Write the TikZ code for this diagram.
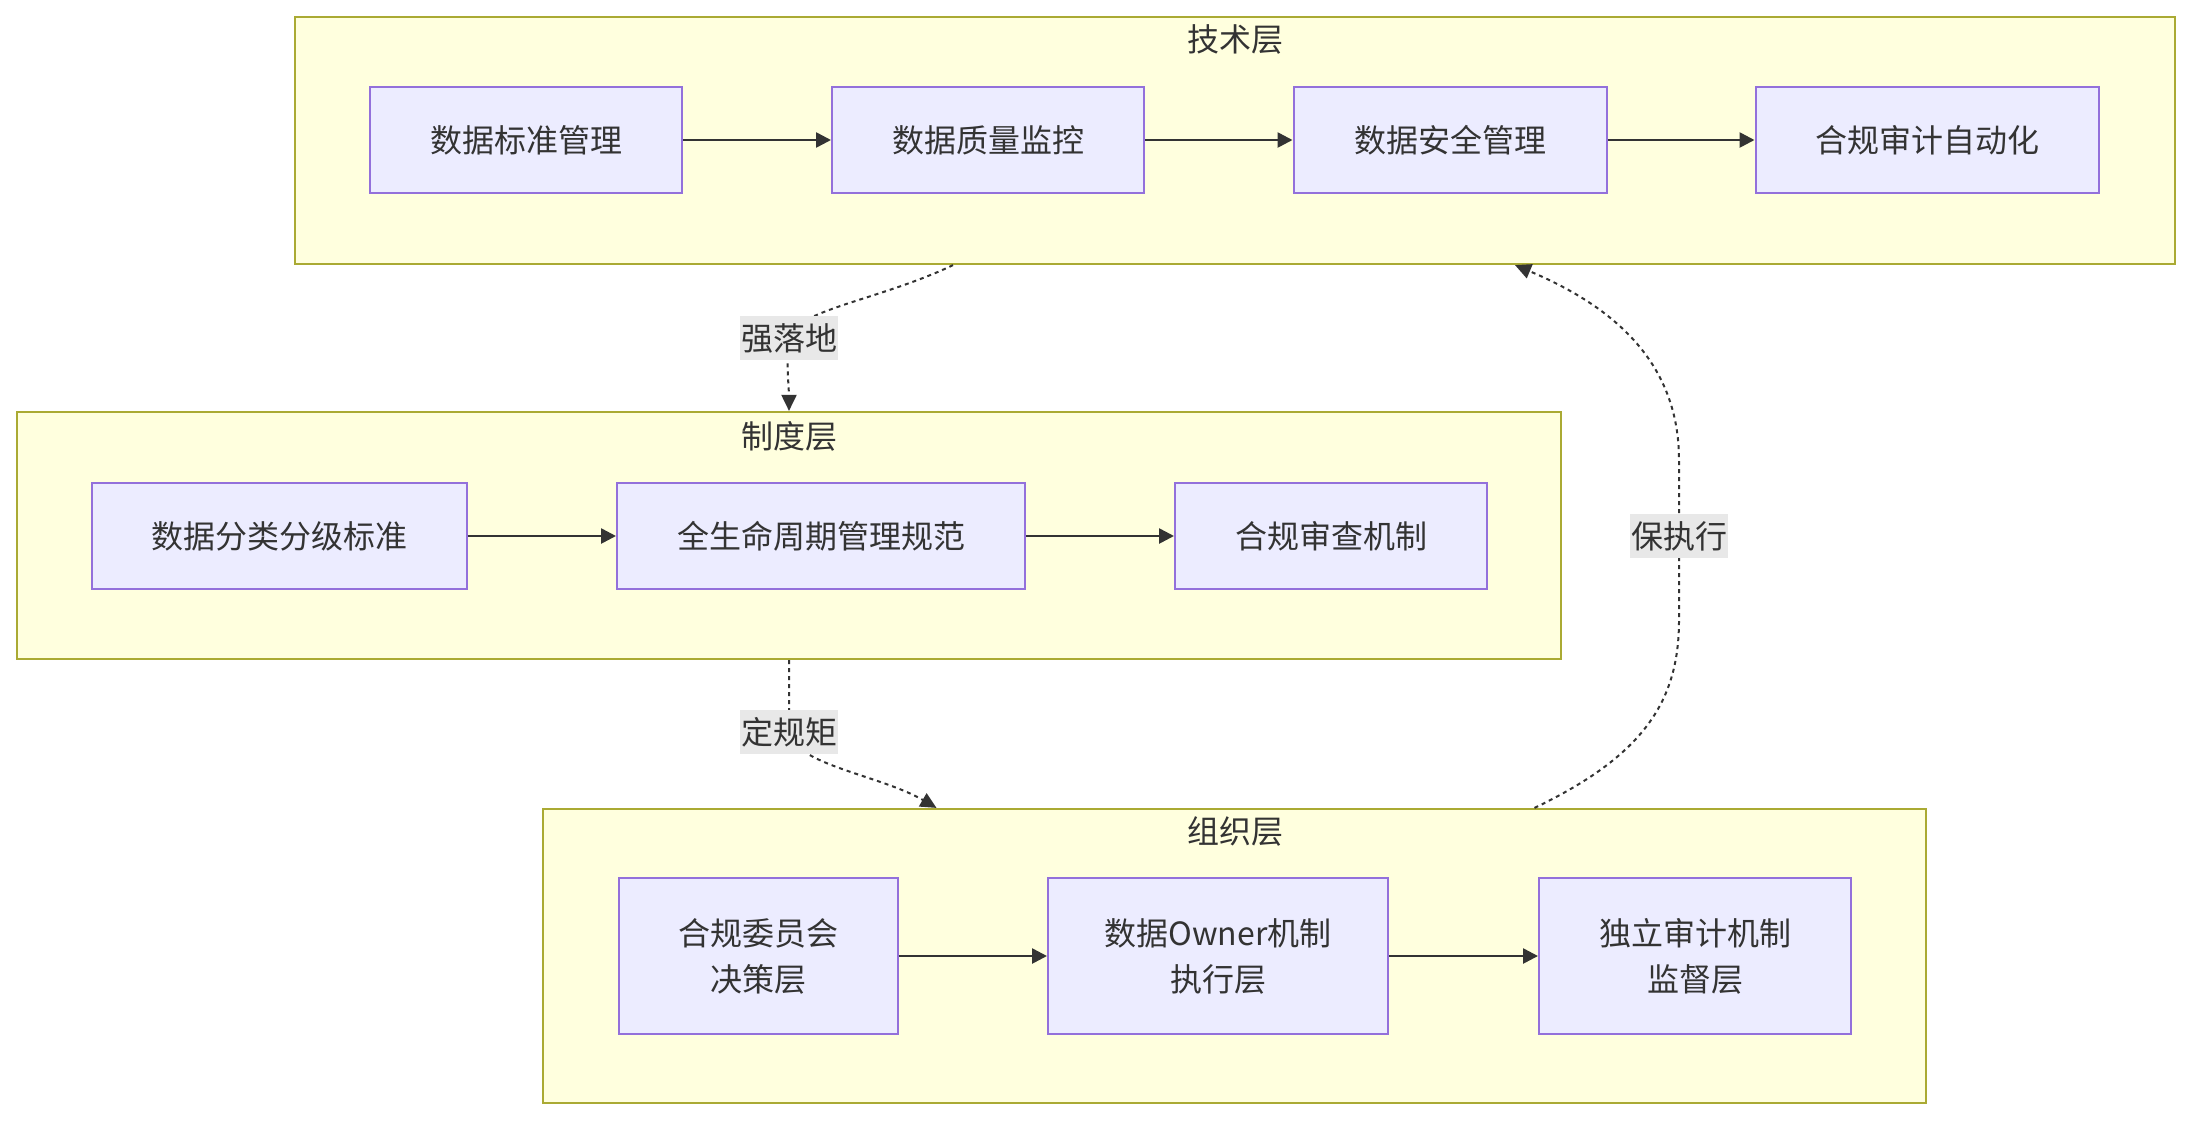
\documentclass[tikz,border=0pt]{standalone}
\usepackage{fontspec}
\setmainfont{Noto Sans CJK SC}
\usetikzlibrary{arrows.meta}
\definecolor{clfill}{HTML}{FFFFDE}
\definecolor{clline}{HTML}{AAAA33}
\definecolor{ndfill}{HTML}{ECECFF}
\definecolor{ndline}{HTML}{9370DB}
\definecolor{txt}{HTML}{333333}
\definecolor{lblbg}{HTML}{E8E8E8}
\begin{document}
\begin{tikzpicture}[x=1pt,y=-1pt,
  font=\fontsize{32}{46}\selectfont, text=txt,
  cluster/.style={draw=clline, fill=clfill, line width=2.2pt, inner sep=0pt},
  box/.style={draw=ndline, fill=ndfill, line width=2pt, align=center, inner sep=0pt},
  flow/.style={draw=txt, line width=2.6pt, -{Triangle[length=15pt,width=15pt]}},
  link/.style={draw=txt, line width=2pt, dash pattern=on 4pt off 4pt, -{Triangle[length=16pt,width=15pt]}},
  elabel/.style={fill=lblbg, inner xsep=1pt, inner ysep=0pt, minimum height=44pt},
  title/.style={inner sep=0pt}]
\useasboundingbox (0,0) rectangle (2190,1120);
% clusters
\node[cluster, minimum width=1880pt, minimum height=247pt] (tech) at (1235,140.5) {};
\node[cluster, minimum width=1544pt, minimum height=247pt] (inst) at (789,535.5) {};
\node[cluster, minimum width=1383pt, minimum height=294pt] (org) at (1234.5,956) {};
\node[title] (t1) at (1235,39) {技术层};
\node[title] (t2) at (789,436) {制度层};
\node[title] (t3) at (1235,831) {组织层};
% tech row
\node[box, minimum width=312pt, minimum height=106pt] (n1) at (526,140) {数据标准管理};
\node[box, minimum width=312pt, minimum height=106pt] (n2) at (988,140) {数据质量监控};
\node[box, minimum width=313pt, minimum height=106pt] (n3) at (1450,140) {数据安全管理};
\node[box, minimum width=343pt, minimum height=106pt] (n4) at (1927,140) {合规审计自动化};
% institution row
\node[box, minimum width=375pt, minimum height=106pt] (n5) at (279,536) {数据分类分级标准};
\node[box, minimum width=408pt, minimum height=106pt] (n6) at (821,536) {全生命周期管理规范};
\node[box, minimum width=312pt, minimum height=106pt] (n7) at (1331,536) {合规审查机制};
% org row
\node[box, minimum width=279pt, minimum height=156pt] (n8) at (758,956) {合规委员会\\决策层};
\node[box, minimum width=340pt, minimum height=156pt] (n9) at (1218,956) {数据Owner机制\\执行层};
\node[box, minimum width=312pt, minimum height=156pt] (n10) at (1695,956) {独立审计机制\\监督层};
% flows
\draw[flow] (n1.east) -- (n2.west);
\draw[flow] (n2.east) -- (n3.west);
\draw[flow] (n3.east) -- (n4.west);
\draw[flow] (n5.east) -- (n6.west);
\draw[flow] (n6.east) -- (n7.west);
\draw[flow] (n8.east) -- (n9.west);
\draw[flow] (n9.east) -- (n10.west);
% cross-layer links
\draw[link] ([xshift=-282pt]tech.south) .. controls (880,300) and (795,310) .. (789,338)
  node[elabel] (l1) {强落地} .. controls (786,362) and (789,390) .. (inst.north);
\draw[link] (inst.south) .. controls (789,690) and (789,710) .. (789,732)
  node[elabel] (l2) {定规矩} .. controls (795,765) and (880,775) .. ([xshift=-298pt]org.north);
\draw[link] ([xshift=300pt]org.north) .. controls (1645,755) and (1679,700) .. (1679,620)
  -- (1679,536) node[elabel] (l3) {保执行} -- (1679,460)
  .. controls (1679,360) and (1610,305) .. ([xshift=280pt]tech.south);
\end{tikzpicture}
\end{document}
